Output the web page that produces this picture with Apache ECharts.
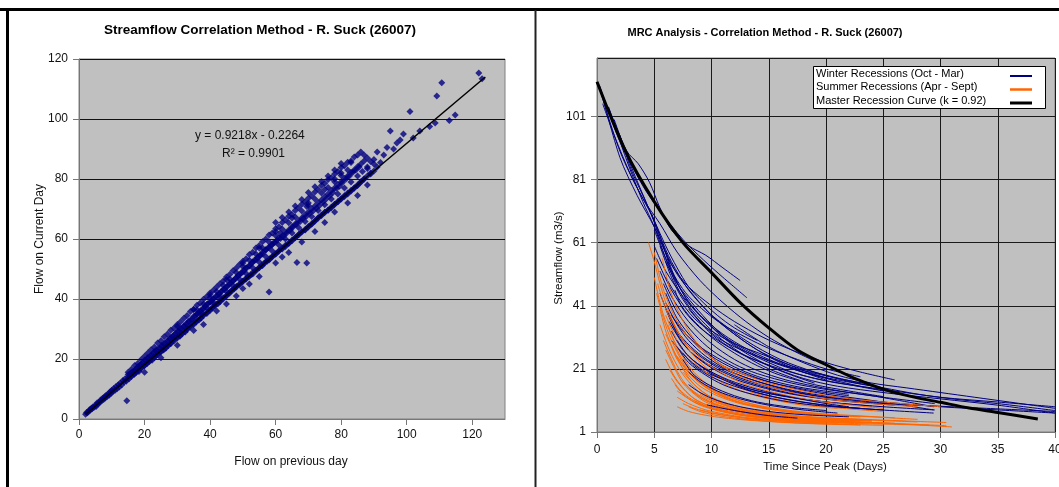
<!DOCTYPE html>
<html>
<head>
<meta charset="utf-8">
<script src="https://cdn.jsdelivr.net/npm/echarts@6/dist/echarts.min.js"></script>
<style>
html,body{margin:0;padding:0;background:#fff;overflow:hidden;}
#c{width:1059px;height:487px;}
</style>
</head>
<body>
<div id="c"></div>
<script>
// ---------- DATA ----------
const leftTitle = 'Streamflow Correlation Method - R. Suck (26007)';
const rightTitle = 'MRC Analysis - Correlation Method - R. Suck (26007)';
const leftXName = 'Flow on previous day';
const leftYName = 'Flow on Current Day';
const rightXName = 'Time Since Peak (Days)';
const rightYName = 'Streamflow (m3/s)';
const equationText = 'y = 0.9218x - 0.2264';
const r2Text = 'R² = 0.9901';
const legendNames = ['Winter Recessions (Oct - Mar)', 'Summer Recessions (Apr - Sept)', 'Master Recession Curve (k = 0.92)'];

// Scatter: [flow previous day, flow current day]
const scatterPoints = [
[2,1.6],[2.3,2.2],[2.6,2.1],[3,2.6],[3.2,3.1],[3.5,3.0],[3.8,3.6],[4,3.4],[4.3,4.1],[4.6,3.9],[5,4.6],[5.2,4.2],[5.5,5.3],[5.8,5],[6,5.6],[6.3,5.4],[6.6,6.3],[7,6.2],[7.2,6.9],[7.5,6.5],[7.8,7.4],[8,7],[8.3,7.9],[8.6,7.5],[9,8.5],[9.2,7.9],[9.5,9.1],[9.8,8.6],[10,9.6],[10.3,9.1],[10.6,10.2],[11,9.6],[11.3,10.8],[11.6,10.1],[12,11.4],[12.3,10.7],[12.6,12],[13,11.3],[13.4,12.8],[13.8,12.3],[14,13.3],[14.4,12.6],[14.6,6.1],[15,14.2],[15.3,13.4],[15.7,15],[16,14.2],[16.4,15.6],[16.8,14.8],[17,16.2],[17.5,15.6],[18,17.2],[18.3,15.8],[18.7,17.9],[19,16.9],[19.5,18.6],[20,17.8],[20,15.6],[20.4,19.5],[20.8,18.5],[21,20.3],[21.5,19.2],[22,21],[22.3,19.6],[22.8,21.9],[23,20.5],[23.5,22.8],[24,21.5],[24.5,23.6],[25,22.4],[25,20.4],[25.3,24.5],[25.8,23],[26,25],[26.5,23.6],[27,26],[27.3,24.5],[27.8,26.8],[28,25.3],[28.5,27.5],[29,26],[29.4,28.4],[30,27],[30,24.6],[30,31],[30.3,29.3],[30.8,27.6],[31,30],[31.5,28.4],[32,30.9],[32.4,29],[32.8,31.6],[33,29.8],[33.5,32.5],[34,30.6],[34.4,33.2],[35,31.5],[35,29.5],[35,36.5],[35.3,34.2],[35.8,32.3],[36,35],[36.6,33],[37,35.8],[37.3,33.7],[37.8,36.6],[38,34.5],[38,31.5],[38.5,37.5],[39,35.2],[39.3,38.4],[40,36.2],[40,41.5],[40.2,39],[40.8,37],[41,40],[41.5,37.8],[42,40.8],[42,36],[42.4,38.4],[42.8,41.6],[43,39.2],[43.5,42.6],[44,40],[44.3,43.2],[45,41],[45,38.3],[45,46.5],[45.2,44.2],[45.8,42],[46,45],[46.5,42.8],[47,46],[47.3,43.3],[47.8,46.8],[48,44.2],[48,41],[48.6,47.8],[49,45],[49.4,48.6],[50,45.8],[50,43.5],[50,52],[50.3,49.6],[50.8,46.7],[51,50.4],[51.6,47.4],[52,51.2],[52,45],[52.4,48],[52.8,52],[53,48.8],[53.6,53],[54,49.5],[54.5,53.8],[55,50.5],[55,47.5],[55,57],[55.3,54.6],[55.8,51.2],[56,55.6],[56.6,52],[57,56.4],[57.4,52.6],[58,42.3],[57.8,57.2],[58.3,53.5],[58.8,58],[59,54.2],[59.5,58.8],[60,55],[60,52],[60,62.5],[60.4,59.6],[61,56],[61.4,62],[61.5,60.2],[62,57],[62,54],[62.5,61],[63,57.5],[63.4,62],[64,58.6],[64,55.5],[64.5,63],[65,59.4],[65,67],[65.3,64],[66,60.4],[66.5,52.2],[66.4,65],[67,61.4],[67.5,65.8],[68,62.3],[68,59],[68.4,66.8],[69,63.2],[69.5,52],[69.5,70.8],[69.4,67.6],[70,64],[70,72],[70.5,68.6],[71,65],[71.5,69.4],[72,66],[72,62.5],[72.5,70.3],[73,67],[73.4,71.2],[74,68],[74.5,72.3],[75,68.8],[75,65.5],[75,76.5],[75.5,73.4],[76,69.7],[76.6,74.5],[77,70.6],[77.5,75.5],[78,71.5],[78,69],[78,80],[78.6,76.8],[79,72.4],[79.5,77.6],[80,73.4],[80,82],[80.4,78.8],[81,74.4],[81.5,80],[82,75.3],[82,72],[82.5,81],[83,76.2],[83,85.5],[83.5,82.2],[84,77],[84.5,83],[85,78],[85,74.5],[85.5,84],[86,79],[86.5,82.5],[87,80],[87,88],[88,84],[88,78],[89,81.7],[90,85],[91,89],[91,84],[92,85.5],[93,88],[94,90.5],[95,96],[96,90],[97,92],[98,93],[99,95],[101,102.5],[102,93.7],[104,96],[107,97.5],[108.7,98.7],[109.2,107.7],[110.7,112.1],[113,99.5],[114.8,101.3],[122,115.3],[123,113.4],
[15,13.5],[15,14.8],[15,15.6],[16,14.4],[16,15.5],[16,16.6],[17,15.2],[17,16.3],[17,17.8],[18,16.2],[18,17.5],[18,18.6],[19,17],[19,18.3],[19,19.8],[20,17.8],[20,19.6],[20,20.9],
[21,18.9],[21,20.4],[21,22],[22,19.8],[22,21.3],[22,23.1],[23,20.6],[23,22.4],[23,24],[24,21.6],[24,23],[24,25.3],[25,22.5],[25,24.2],[25,26.1],[26,23.4],[26,25.1],[26,27.4],[27,24.5],[27,26],[27,28.3],[28,25.1],[28,27.2],[28,29.6],[29,26.5],[29,28],[29,30.3],[30,27.3],[30,29.1],[30,31.5],
[31,28],[31,30.2],[31,32.4],[32,29.1],[32,31],[32,33.6],[33,30],[33,32.1],[33,34.5],[34,31],[34,33],[34,35.8],[35,31.9],[35,34.2],[35,36.6],[36,32.8],[36,35],[36,37.9],[36,36.4],[37,33.6],[37,36.1],[37,38.7],[37,35],[38,34.8],[38,37],[38,39.9],[38,38.3],[39,35.5],[39,38.2],[39,40.8],[39,37],[40,36.5],[40,39],[40,42],[40,40.5],
[41,37.4],[41,40.1],[41,42.9],[41,38.8],[42,38.3],[42,41.2],[42,44],[42,42.5],[43,39.1],[43,42],[43,45.1],[43,40.6],[44,40.4],[44,43.2],[44,46],[44,44.6],[45,41.2],[45,44],[45,47.3],[45,42.5],[46,42],[46,45.3],[46,48.2],[46,46.7],[47,43.1],[47,46],[47,49.4],[47,44.5],[48,44],[48,47.2],[48,50.3],[48,48.8],[49,44.8],[49,48.1],[49,51.5],[49,46.6],[50,45.9],[50,49],[50,52.6],[50,50.8],
[51,46.7],[51,50.2],[51,53.4],[51,48.5],[52,47.6],[52,51],[52,54.8],[52,52.9],[53,48.3],[53,52.3],[53,55.6],[53,50.4],[54,49.5],[54,53],[54,57],[54,55],[55,50.4],[55,54.2],[55,57.8],[55,52.3],[56,51.2],[56,55],[56,59.1],[56,57],[57,52.4],[57,56.3],[57,60],[57,54.2],[58,53],[58,57.1],[58,61.3],[58,59],[59,54.1],[59,58.2],[59,62],[59,56],[60,55],[60,59],[60,63.4],[60,61.2],[60,65.5],
[61,56],[61,60.3],[61,64.1],[61,58],[62,56.7],[62,61],[62,65.5],[62,63.3],[62,67.2],[63,57.9],[63,62.2],[63,66.3],[63,60],[64,58.5],[64,63],[64,67.6],[64,65.4],[64,69],[65,59.6],[65,64.1],[65,68.2],[65,62],[66,60.5],[66,65],[66,69.5],[66,67.3],[66,71],[67,61.4],[67,66.2],[67,70.4],[67,63.8],[68,62.5],[68,67],[68,71.6],[68,69.3],[68,73.2],[69,63],[69,68.1],[69,72.4],[69,65.8],[70,64.2],[70,69],[70,73.6],[70,71.2],[70,75.5],
[71,65],[71,70.1],[71,74.4],[71,67.5],[72,66],[72,71],[72,75.7],[72,73.3],[72,77.4],[73,67.1],[73,72.2],[73,76.5],[73,69.5],[74,67.8],[74,73],[74,77.8],[74,75.3],[74,79.2],[75,68.9],[75,74.1],[75,78.6],[75,71.4],[76,69.6],[76,75],[76,79.8],[76,77.2],[76,81],[77,70.5],[77,76.2],[77,80.4],[77,73.3],[78,71.6],[78,77],[78,81.7],[78,79.1],[78,83],[79,72.4],[79,78.1],[79,82.5],[79,75],[80,73.3],[80,79],[80,83.8],[80,81.2],[80,85.2],
[81,74.2],[81,80.2],[81,84.4],[81,77],[82,75],[82,81],[82,85.6],[82,83],[83,76],[83,82.2],[83,86],[83,79],[84,77],[84,83],[84,87.3],[85,77.8],[85,84.1],[85,88],[85,81],[86,79],[86,85],[86,89],[87,80],[87,86],[88,81],[88,83.5],[88,87],[89,82],[89,85.8],[90,82.7],[90,86.5]
];
// Trendline endpoints
const trendLine = [[2,1.6],[124,114]];

// Recession curves: [day since peak, streamflow]
const winterCurves = [
[[0.2,111],[2,93],[4,79],[5.5,71],[7.5,62],[9.3,55.5],[11,50],[13.1,43.5]],
[[0.3,109],[2,90],[4,75],[5.5,67],[7,58],[9,49],[11,42],[13,36],[15,31],[17,27],[19,23.5]],
[[0.5,107],[2,88],[3.5,76],[5,66],[6,58],[7,51],[8.5,44],[10,38],[12,32],[14,27],[16,23],[18,20],[20,17.5]],
[[0.5,105],[1.5,95],[3,82],[4,75],[5,68],[5.8,60],[6.5,52],[7.5,45],[9,38],[11,31],[13,26],[15,22],[17,19],[19,16.5]],
[[1,104],[2.5,88],[4,74],[5,66],[6,56],[7,47],[8,41],[9.5,35],[11,30],[13,25],[15,21],[18,17]],
[[1.5,100],[3,85],[4.5,72],[5.5,63],[6.5,55],[8,46],[10,38],[12,32],[14,27],[16,23.5],[18,20.5],[21,17]],
[[1,104],[2.6,90],[3.6,86],[4.6,80],[5.5,72],[6.5,65],[8,60],[9.5,57],[11,53],[12.5,49]],
[[2,95],[3,84],[4,76],[5,68],[6,60],[7,53],[8,47],[9,43],[10.5,38],[12,34],[14,30]],
[[5,60],[6,52],[7.5,44],[9,38],[11,32],[13,27.5],[15,24],[17.5,20.5],[20,18],[23,15.5],[26,13.5]],
[[5.2,56],[6.5,46],[8,38],[10,31],[12,26],[14,22],[16,19],[19,16],[22,14],[25,12.2]],
[[5.5,52],[6.5,44],[8,36],[10,29],[12,24],[14,20.5],[16.5,17.5],[19,15.5],[22,13.5],[25,12],[29.5,10]],
[[5.8,48],[7,39],[8.5,32],[10,27],[12,22.5],[14,19.5],[17,16.5],[20,14.5],[24,12.5],[29.4,9]],
[[6,45],[7,37],[8.5,30],[10,25],[12,21],[14.5,17.5],[17,15],[20,13],[24,11],[29.4,8]],
[[6,42],[7,35],[8,30],[9.5,25],[11.5,20.5],[14,17],[17,14],[20,12],[25,10.2]],
[[6.2,39],[7.2,32],[8.5,27],[10,23],[12,19.5],[15,16],[18,13.5],[21,12],[25,10.5],[30,9],[35,8],[40,7]],
[[6.3,36],[7.5,29],[9,24],[11,20],[13,17],[16,14],[19,12],[23,10.5],[28,9.5],[34,8.5],[40,7.5]],
[[6.5,33],[7.5,27],[9,22],[11,18],[13,15],[16,12.5],[20,10.5],[25,9],[29.5,8]],
[[6.5,30],[8,24],[9.5,20],[11.5,17],[14,14],[17,12],[20,10.5],[24,9.2]],
[[6,55],[7,48],[8.5,41],[10,35],[11.5,30],[13,26.5],[15,23],[17,20],[19,18],[21,16.5],[25,14.5],[30,12],[35,10.5],[40,9]],
[[12,35],[15,28],[18,23],[21,19],[24,16.5],[27,15],[30,13.5],[33,12],[36,10.5],[40,8.5]],
[[10,38],[13,30],[16,24],[19,20],[22,17],[25,15],[28,13],[31,11.5],[35,10],[40,7.8]],
[[8,40],[10,32],[12,27],[15,22],[18,18],[21,15.5],[25,13.5],[30,11.5],[35,9.5],[40,7]],
[[7,36],[8,31],[9.5,26],[11,22],[13,19],[16,16],[19,14],[22,12.5]],
[[5.5,60],[6.5,50],[7.5,43],[9,36],[10.5,31],[12,28],[14,25],[16,22.5],[18,20.5],[21,18],[24,16]],
[[6,50],[7,44],[8.5,37],[10,33],[12,29],[14.5,25.5],[17,22],[20,19],[23,16.5]],
[[6.8,46],[7.5,40],[9,34],[11,29],[13,25],[16,21],[19,18],[22,16],[25,14]],
[[5,65],[6,56],[7,49],[8,44],[9.5,39],[11,35],[13,31],[15,27.5],[17.5,24],[20,21],[23,18.5]],
[[4.8,70],[5.5,62],[6.5,54],[8,47],[10,41],[12,36],[14.5,31],[17,27],[20,23],[23,20],[26,17.5]],
[[5.5,45],[6.5,36],[7.5,30],[9,25],[11,20.5],[13,17.5],[16,14.5],[19,12.5],[23,11]],
[[6,40],[7,32],[8,27],[9.5,22.5],[11.5,18.5],[14,15.5],[17,13],[21,11],[26,9.5]],
[[6.5,38],[7.5,33],[9,28],[11,23.5],[13,20],[15,17.5],[18,15],[22,13]],
[[6,58],[6.8,50],[8,42],[9.5,36],[11,31.5],[13,27],[15,23.5],[18,20],[21,17.5],[25,15]]
];
const winterCurvesTop = [
[[7,30],[8,25],[9.5,21],[11.5,17.5],[14,14.5],[17,12],[20,10],[22,9]],
[[7.5,26],[8.5,22],[10,18.5],[12,15.5],[15,12.5],[18,10.5],[21,9],[25,8]],
[[9.6,9.6],[11,8.5],[13,7.2],[15,6.2],[17.5,5.4]],
[[8,20],[9,17],[10.5,14],[12.5,11.5],[15,9.5],[18,8],[21,7]],
[[9,22],[10,19.5],[12,16],[14,13.5],[17,11],[20,9.5],[24,8.2],[29.4,7]],
[[7,28],[8,23],[9.5,19],[11,16],[13,13.5],[16,11],[19,9.5],[23,8.5]],
[[7.5,24],[8.5,19],[10,15.5],[12,12.5],[14,10.5],[17,8.8],[20,7.8]],
[[8,16],[9,13.5],[10.5,11],[12.5,9],[15,7.5],[18,6.5],[22,5.8]]
];
const summerCurves = [
[[4.5,61],[5,55],[5.5,48],[6,42],[6.5,37],[7.5,30],[8.5,25],[10,20],[12,16],[14,13],[17,10.5],[20,9],[25,7.5]],
[[5,50],[5.5,42],[6,36],[7,28],[8,22],[9,18],[10.5,14],[12.5,11],[15,8.5],[18,7],[22,6]],
[[5.2,45],[5.8,37],[6.5,30],[7.5,23],[8.5,18],[10,14],[12,11],[14,9],[17,7.5],[20,6.5]],
[[5.5,40],[6,33],[6.8,26],[7.5,21],[8.5,16],[10,12],[12,9],[14,7.5],[17,6],[20,5],[24,4.5]],
[[5.5,35],[6.2,28],[7,22],[8,17],[9,13.5],[10.5,10.5],[12.5,8],[15,6.5],[18,5.5],[22,4.8]],
[[5.8,30],[6.5,24],[7.2,19],[8,15],[9,12],[10.5,9.5],[12.5,7.5],[15,6],[18,5],[21,4.5]],
[[6,27],[6.8,21],[7.5,16.5],[8.5,13],[9.5,10.5],[11,8.5],[13,7],[16,5.5],[19,4.5],[23,4]],
[[6,24],[6.7,19],[7.5,15],[8.5,11.5],[10,9],[12,7],[14,6],[17,5],[20,4.2]],
[[6.3,21],[7,17],[8,13],[9,10.5],[10.5,8.5],[12.5,7],[15,5.7],[18,4.8],[21,4.2],[25,3.8]],
[[6.5,18],[7.2,14.5],[8,12],[9,10],[10.5,8],[12.5,6.5],[15,5.2],[18,4.5],[22,4]],
[[6.8,16],[7.5,13],[8.5,10.5],[10,8.5],[12,6.8],[14,5.8],[17,4.8],[20,4.3],[25,3.8],[31,2.6]],
[[7,14],[8,11.5],[9,9.5],[10.5,7.8],[12.5,6.3],[15,5.2],[18,4.5],[22,4]],
[[5,58],[5.5,50],[6,44],[7,36],[8,31],[9.5,26],[11,22],[13,19],[15,16.5],[18,14],[21,12],[25,10.5],[30,9]],
[[5.3,48],[6,40],[7,33],[8,28],[9.5,23],[11,19.5],[13,16],[15.5,13.5],[18,11.5],[21,10],[25,8.5]],
[[6,38],[7,30],[8,25],[9.5,20],[11,16.5],[13,13.5],[15,11.5],[18,9.5],[21,8.5]],
[[7,25],[8,20],[9,16.5],[10.5,13],[12,10.8],[14,9],[17,7.5],[20,6.5],[24,5.8],[28,5]],
[[7.5,20],[8.5,16],[9.5,13],[11,10.5],[13,8.5],[15,7.2],[18,6],[22,5.2],[27,4.5],[30.5,4]],
[[8,15],[9,12.5],[10,10.5],[11.5,8.5],[13.5,7],[16,5.8],[19,5],[23,4.5]],
[[7,12],[8,10],[9.5,8],[11,6.8],[13,5.6],[15.5,4.8],[18,4.2],[21,3.8]],
[[7.5,10],[8.5,8.5],[10,7],[12,5.8],[14,5],[17,4.3],[20,3.8]],
[[6,32],[6.8,26],[7.5,22],[8.5,18],[10,14.5],[12,11.5],[14,9.5],[16.5,8],[19,7],[22,6.3],[26,5.5]],
[[8,9],[9,7.5],[10.5,6.2],[12.5,5.2],[15,4.4],[18,3.8],[22,3.4],[25,3.1]],
[[6.5,28],[7,24],[8,19],[9,15.5],[10.5,12.5],[12.5,10],[15,8.2],[17.5,7],[20,6.2]],
[[9,13],[10,11],[11.5,9],[13,7.8],[15,6.8],[18,5.8],[21,5.2],[25,4.6],[28,4.2]],
[[10,10],[12,8],[14,6.5],[17,5.4],[20,4.7],[24,4],[28,3.4],[30.5,3]],
[[5.7,56],[6.3,47],[7,40],[8,33],[9,28],[10.5,23],[12,19.5],[14,16.5],[17,13.5],[20,11.5],[24,10],[28,9]],
[[7,9],[8,7.5],[9.5,6.3],[11,5.5],[13,4.8],[16,4.1],[19,3.6],[23,3.2]],
[[8.5,11],[9.5,9.2],[11,7.5],[13,6.2],[15.5,5.3],[18.5,4.7],[22,4.2],[26,3.8]],
[[7.5,17],[8.5,13.5],[9.5,11],[11,9],[13,7.3],[16,6],[19,5.2],[24,4.5]],
[[6.2,35],[7,27],[8,21],[9,17],[10.5,13.5],[12,11],[14,9],[16,7.7],[19,6.6],[23,5.8]],
[[9,8],[10.5,6.8],[12,5.9],[14,5],[17,4.3],[20,3.9],[25,3.5],[29,3.2]],
[[10,12],[11,10],[12.5,8.3],[14.5,7],[17,6],[20,5.4],[24,4.9]]
];
const masterCurve = [[0,112],[2.5,90],[5,74],[7.5,61],[10,51.5],[12.5,42],[15,34],[17.5,27],[20,22.3],[22.5,18],[25,14.6],[27.5,12.2],[30,10.4],[32.5,8.6],[35,7.2],[38.5,5.1]];

// ---------- CHART ----------
const FONT = '"Liberation Sans", Arial, sans-serif';
const WINTER = '#000080', SUMMER = '#FF6600';
const chart = echarts.init(document.getElementById('c'), null, {renderer: 'canvas'});

function lineSeries(name, data, color, width, z) {
  return {
    name, type: 'line', xAxisIndex: 1, yAxisIndex: 1, data,
    symbol: 'none', smooth: 0.3,
    lineStyle: {color, width}, itemStyle: {color}, z, silent: true,
    animation: false, clip: true
  };
}

const series = [
  {
    type: 'scatter', xAxisIndex: 0, yAxisIndex: 0, data: scatterPoints,
    symbol: 'diamond', symbolSize: 7, itemStyle: {color: '#000080'}, animation: false, silent: true, z: 2, large: false
  },
  {
    type: 'line', xAxisIndex: 0, yAxisIndex: 0, data: trendLine, symbol: 'none',
    lineStyle: {color: '#000', width: 1.5}, animation: false, silent: true, z: 3
  }
];
winterCurves.forEach(c => series.push(lineSeries(legendNames[0], c, WINTER, 1, 2)));
summerCurves.forEach(c => series.push(lineSeries(legendNames[1], c, SUMMER, 1, 3)));
winterCurvesTop.forEach(c => series.push(lineSeries(legendNames[0], c, WINTER, 1, 4)));
series.push(lineSeries(legendNames[2], masterCurve, '#000', 3, 5));

const axisLabelStyle = {color: '#111', fontSize: 12, fontFamily: FONT};

// legend box geometry (drawn as graphic elements)
const LX = 813, LY = 66, LW = 232, LH = 42;
const legendColors = [WINTER, SUMMER, '#000'];
const legendWidths = [2, 2.5, 3];
const legendGraphics = [
  {type: 'rect', shape: {x: LX + 0.5, y: LY + 0.5, width: LW, height: LH}, style: {fill: '#fff', stroke: '#000', lineWidth: 1}, z: 90, silent: true}
];
legendNames.forEach((n, i) => {
  legendGraphics.push({type: 'text', x: LX + 3, y: LY + 7.5 + i * 13.5, style: {text: n, font: '11px ' + FONT, fill: '#000', align: 'left', verticalAlign: 'middle'}, z: 91, silent: true});
  legendGraphics.push({type: 'line', shape: {x1: LX + 197, y1: LY + 10 + i * 13.5, x2: LX + 219, y2: LY + 10 + i * 13.5}, style: {stroke: legendColors[i], lineWidth: legendWidths[i]}, z: 91, silent: true});
});

chart.setOption({
  animation: false,
  backgroundColor: '#fff',
  grid: [
    {left: 79, top: 59, width: 426, height: 360, show: true, backgroundColor: '#C0C0C0', borderColor: '#808080', borderWidth: 1, containLabel: false, outerBoundsMode: 'none'},
    {left: 597, top: 58, width: 458, height: 374, show: true, backgroundColor: '#C0C0C0', borderColor: '#808080', borderWidth: 1, containLabel: false, outerBoundsMode: 'none'}
  ],
  xAxis: [
    {gridIndex: 0, type: 'value', min: 0, max: 130, interval: 20,
     axisLine: {show: true, lineStyle: {color: '#777', width: 1}},
     axisTick: {show: true, length: 6, lineStyle: {color: '#777'}},
     axisLabel: Object.assign({margin: 10, showMaxLabel: false}, axisLabelStyle),
     splitLine: {show: false}},
    {gridIndex: 1, type: 'value', min: 0, max: 40, interval: 5,
     axisLine: {show: true, lineStyle: {color: '#777', width: 1}},
     axisTick: {show: true, length: 6, lineStyle: {color: '#777'}},
     axisLabel: Object.assign({margin: 12}, axisLabelStyle),
     splitLine: {show: true, lineStyle: {color: '#1a1a1a', width: 1}}}
  ],
  yAxis: [
    {gridIndex: 0, type: 'value', min: 0, max: 120, interval: 20,
     axisLine: {show: true, lineStyle: {color: '#777', width: 1}},
     axisTick: {show: true, length: 6, lineStyle: {color: '#777'}},
     axisLabel: Object.assign({margin: 11}, axisLabelStyle),
     splitLine: {show: true, lineStyle: {color: '#111', width: 1}}},
    {gridIndex: 1, type: 'value', min: 1, max: 119.5, interval: 20,
     axisLine: {show: true, lineStyle: {color: '#777', width: 1}},
     axisTick: {show: true, length: 6, lineStyle: {color: '#777'}},
     axisLabel: Object.assign({margin: 11, showMaxLabel: false}, axisLabelStyle),
     splitLine: {show: true, lineStyle: {color: '#1a1a1a', width: 1}}}
  ],
  graphic: [
    {type: 'rect', shape: {x: 0, y: 8, width: 1059, height: 3}, style: {fill: '#000'}, silent: true, z: 100},
    {type: 'rect', shape: {x: 6, y: 8, width: 3, height: 479}, style: {fill: '#000'}, silent: true, z: 100},
    {type: 'rect', shape: {x: 534.5, y: 10, width: 2, height: 477}, style: {fill: '#222'}, silent: true, z: 100},
    {type: 'text', x: 260, y: 30, style: {text: leftTitle, font: 'bold 13.5px ' + FONT, fill: '#000', align: 'center', verticalAlign: 'middle'}, z: 100},
    {type: 'text', x: 765, y: 33, style: {text: rightTitle, font: 'bold 11px ' + FONT, fill: '#000', align: 'center', verticalAlign: 'middle'}, z: 100},
    {type: 'text', x: 291, y: 462, style: {text: leftXName, font: '12px ' + FONT, fill: '#111', align: 'center', verticalAlign: 'middle'}, z: 100},
    {type: 'text', x: 40, y: 239, rotation: Math.PI / 2, style: {text: leftYName, font: '12px ' + FONT, fill: '#111', align: 'center', verticalAlign: 'middle'}, z: 100},
    {type: 'text', x: 825, y: 467, style: {text: rightXName, font: '11.5px ' + FONT, fill: '#111', align: 'center', verticalAlign: 'middle'}, z: 100},
    {type: 'text', x: 559, y: 258, rotation: Math.PI / 2, style: {text: rightYName, font: '11.5px ' + FONT, fill: '#111', align: 'center', verticalAlign: 'middle'}, z: 100},
    {type: 'text', x: 195, y: 136, style: {text: equationText, font: '12px ' + FONT, fill: '#111', align: 'left', verticalAlign: 'middle'}, z: 100},
    {type: 'text', x: 222, y: 154, style: {text: r2Text, font: '12px ' + FONT, fill: '#111', align: 'left', verticalAlign: 'middle'}, z: 100}
  ].concat(legendGraphics),
  series
});
</script>
</body>
</html>
